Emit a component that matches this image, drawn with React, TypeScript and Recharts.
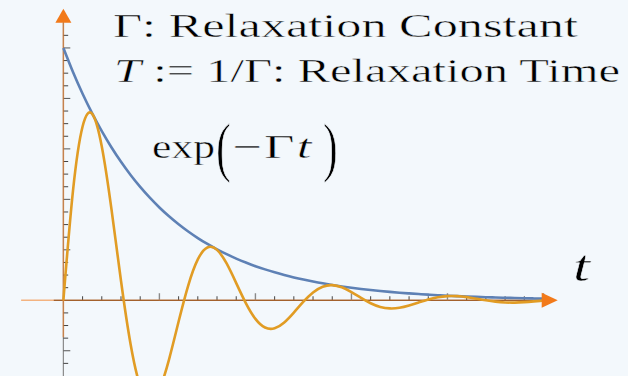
import { LineChart, Line, XAxis, YAxis, ReferenceLine, ReferenceDot } from 'recharts'

// time samples (t in units of the axis ticks)
const tValues = [
  0, 0.5, 1, 1.5, 2, 2.5, 3, 3.5, 4, 4.5, 5, 5.5, 6, 6.5, 7, 7.5, 8, 8.5, 9, 9.5,
  10, 10.5, 11, 11.5, 12, 12.5, 13, 13.5, 14, 14.5, 15, 15.5, 16, 16.5, 17, 17.5,
  18, 18.5, 19, 19.5, 20, 20.5, 21, 21.5, 22, 22.5, 23, 23.5, 24, 24.5, 25,
]

// blue envelope exp(-Γt)
const envelope = [
  1, 0.9048, 0.8187, 0.7408, 0.6703, 0.6065, 0.5488, 0.4966, 0.4493, 0.4066,
  0.3679, 0.3329, 0.3012, 0.2725, 0.2466, 0.2231, 0.2019, 0.1827, 0.1653, 0.1496,
  0.1353, 0.1225, 0.1108, 0.1003, 0.0907, 0.0821, 0.0743, 0.0672, 0.0608, 0.055,
  0.0498, 0.045, 0.0408, 0.0369, 0.0334, 0.0302, 0.0273, 0.0247, 0.0224, 0.0202,
  0.0183, 0.0166, 0.015, 0.0136, 0.0123, 0.0111, 0.0101, 0.0091, 0.0082, 0.0074,
  0.0067,
]

// orange damped oscillation
const damped = [
  0, 0.4338, 0.6889, 0.7389, 0.6095, 0.363, 0.0774, -0.1742, -0.34, -0.3974,
  -0.3528, -0.2349, -0.0842, 0.0586, 0.162, 0.2093, 0.1998, 0.1459, 0.0681, -0.0112,
  -0.0736, -0.1078, -0.1108, -0.0878, -0.0487, -0.0054, 0.0312, 0.054, 0.0602, 0.0514,
  0.0324, 0.0093, -0.0117, -0.0263, -0.0321, -0.0296, -0.0205, -0.0085, 0.0034, 0.0122,
  0.0167, 0.0165, 0.0126, 0.0064, -0.0001, -0.0054, -0.0085, -0.0091, -0.0074, -0.0044,
  -0.0009,
]

const xTicks = [1, 2, 3, 4, 5, 6, 7, 8, 9, 10, 11, 12, 13, 14, 15, 16, 17, 18, 19, 20, 21, 22, 23, 24, 25]
const xMajorTicks = [5, 10, 15, 20, 25]
const yTicks = [
  -0.25, -0.2, -0.15, -0.1, -0.05, 0.05, 0.1, 0.15, 0.2, 0.25, 0.3, 0.35, 0.4, 0.45,
  0.5, 0.55, 0.6, 0.65, 0.7, 0.75, 0.8, 0.85, 0.9, 0.95, 1, 1.05,
]
const yMajorTicks = [-0.2, 0.2, 0.4, 0.6, 0.8, 1]

const data = tValues.map((t, i) => ({ t, envelope: envelope[i], damped: damped[i] }))

const BG = '#f3f8fc'
const BLUE = '#5e81b5'
const ORANGE = '#e19c24'
const ARROW = '#f27a1a'
const AXIS = '#444444'
const FONT = '"Liberation Serif", "Times New Roman", serif'

const RightHead = (props: any) => {
  const { cx, cy } = props
  return <polygon points={`${cx},${cy} ${cx - 16},${cy - 7.5} ${cx - 16},${cy + 7.5}`} fill={ARROW} />
}

const UpHead = (props: any) => {
  const { cx, cy } = props
  return <polygon points={`${cx},${cy} ${cx - 8},${cy + 14} ${cx + 8},${cy + 14}`} fill={ARROW} />
}

export default function App() {
  return (
    <div style={{ position: 'fixed', left: 0, top: 0, width: 628, height: 376, background: BG, overflow: 'hidden' }}>
      <LineChart width={628} height={376} data={data} margin={{ top: 0, right: 0, bottom: 0, left: 0 }}>
        <XAxis type="number" dataKey="t" domain={[-3.3, 29.4]} hide allowDataOverflow />
        <YAxis type="number" domain={[-0.3, 1.19]} hide allowDataOverflow />

        {/* axes */}
        <ReferenceLine segment={[{ x: -0.5, y: 0 }, { x: 25.2, y: 0 }]} stroke={AXIS} strokeWidth={1.2} ifOverflow="visible" zIndex={-10} />
        <ReferenceLine segment={[{ x: 0, y: -0.3 }, { x: 0, y: 1.12 }]} stroke="#8a8a8a" strokeWidth={1.2} ifOverflow="visible" zIndex={-10} />
        {xTicks.map((v) => {
          const major = xMajorTicks.includes(v)
          return (
            <ReferenceLine
              key={`xt${v}`}
              segment={[{ x: v, y: 0 }, { x: v, y: major ? 0.028 : 0.016 }]}
              stroke={major ? '#8a8a8a' : AXIS}
              strokeWidth={major ? 1.4 : 1}
              ifOverflow="visible"
              zIndex={-10}
            />
          )
        })}
        {yTicks.map((v) => {
          const major = yMajorTicks.includes(v)
          return (
            <ReferenceLine
              key={`yt${v}`}
              segment={[{ x: 0, y: v }, { x: major ? 0.36 : 0.25, y: v }]}
              stroke={major ? '#555555' : AXIS}
              strokeWidth={1}
              ifOverflow="visible"
              zIndex={-10}
            />
          )
        })}

        {/* arrow shafts */}
        <ReferenceLine segment={[{ x: -2.2, y: 0 }, { x: 25, y: 0 }]} stroke={ARROW} strokeOpacity={0.55} strokeWidth={1.6} ifOverflow="visible" zIndex={-5} />
        <ReferenceLine segment={[{ x: 0, y: -0.146 }, { x: 0, y: 1.1 }]} stroke={ARROW} strokeOpacity={0.55} strokeWidth={1.6} ifOverflow="visible" zIndex={-5} />

        <Line type="natural" dataKey="envelope" stroke={BLUE} strokeWidth={2.6} dot={false} activeDot={false} isAnimationActive={false} />
        <Line type="natural" dataKey="damped" stroke={ORANGE} strokeWidth={2.6} dot={false} activeDot={false} isAnimationActive={false} />

        <ReferenceDot x={25.74} y={0} shape={RightHead} ifOverflow="visible" />
        <ReferenceDot x={0} y={1.155} shape={UpHead} ifOverflow="visible" />
      </LineChart>

      <svg width={628} height={376} style={{ position: 'absolute', left: 0, top: 0, pointerEvents: 'none' }}>
        {/* a thin background-coloured outline keeps the stretched serif glyphs light */}
        <g fontFamily={FONT} fill="#000" fontSize={34} stroke={BG} strokeWidth={0.45}>
          <text x={113} y={37} textLength={465} lengthAdjust="spacingAndGlyphs">
            Γ: Relaxation Constant
          </text>
          <text x={114} y={82} textLength={506} lengthAdjust="spacingAndGlyphs">
            <tspan fontStyle="italic">T</tspan> := 1/Γ: Relaxation Time
          </text>

          {/* exp(−Γt) with tall delimiters */}
          <text x={152} y={158} textLength={63} lengthAdjust="spacingAndGlyphs">exp</text>
          <text transform="translate(216,169) scale(1.3,1.9)">(</text>
          <text transform="translate(232,158) scale(1.55,1)" letterSpacing={1.5}>
            −Γ<tspan fontStyle="italic">t</tspan>
          </text>
          <text transform="translate(323,169) scale(1.3,1.9)">)</text>

          <text x={573} y={281} fontSize={44} fontStyle="italic" textLength={17} lengthAdjust="spacingAndGlyphs">
            t
          </text>
        </g>
      </svg>
    </div>
  )
}
